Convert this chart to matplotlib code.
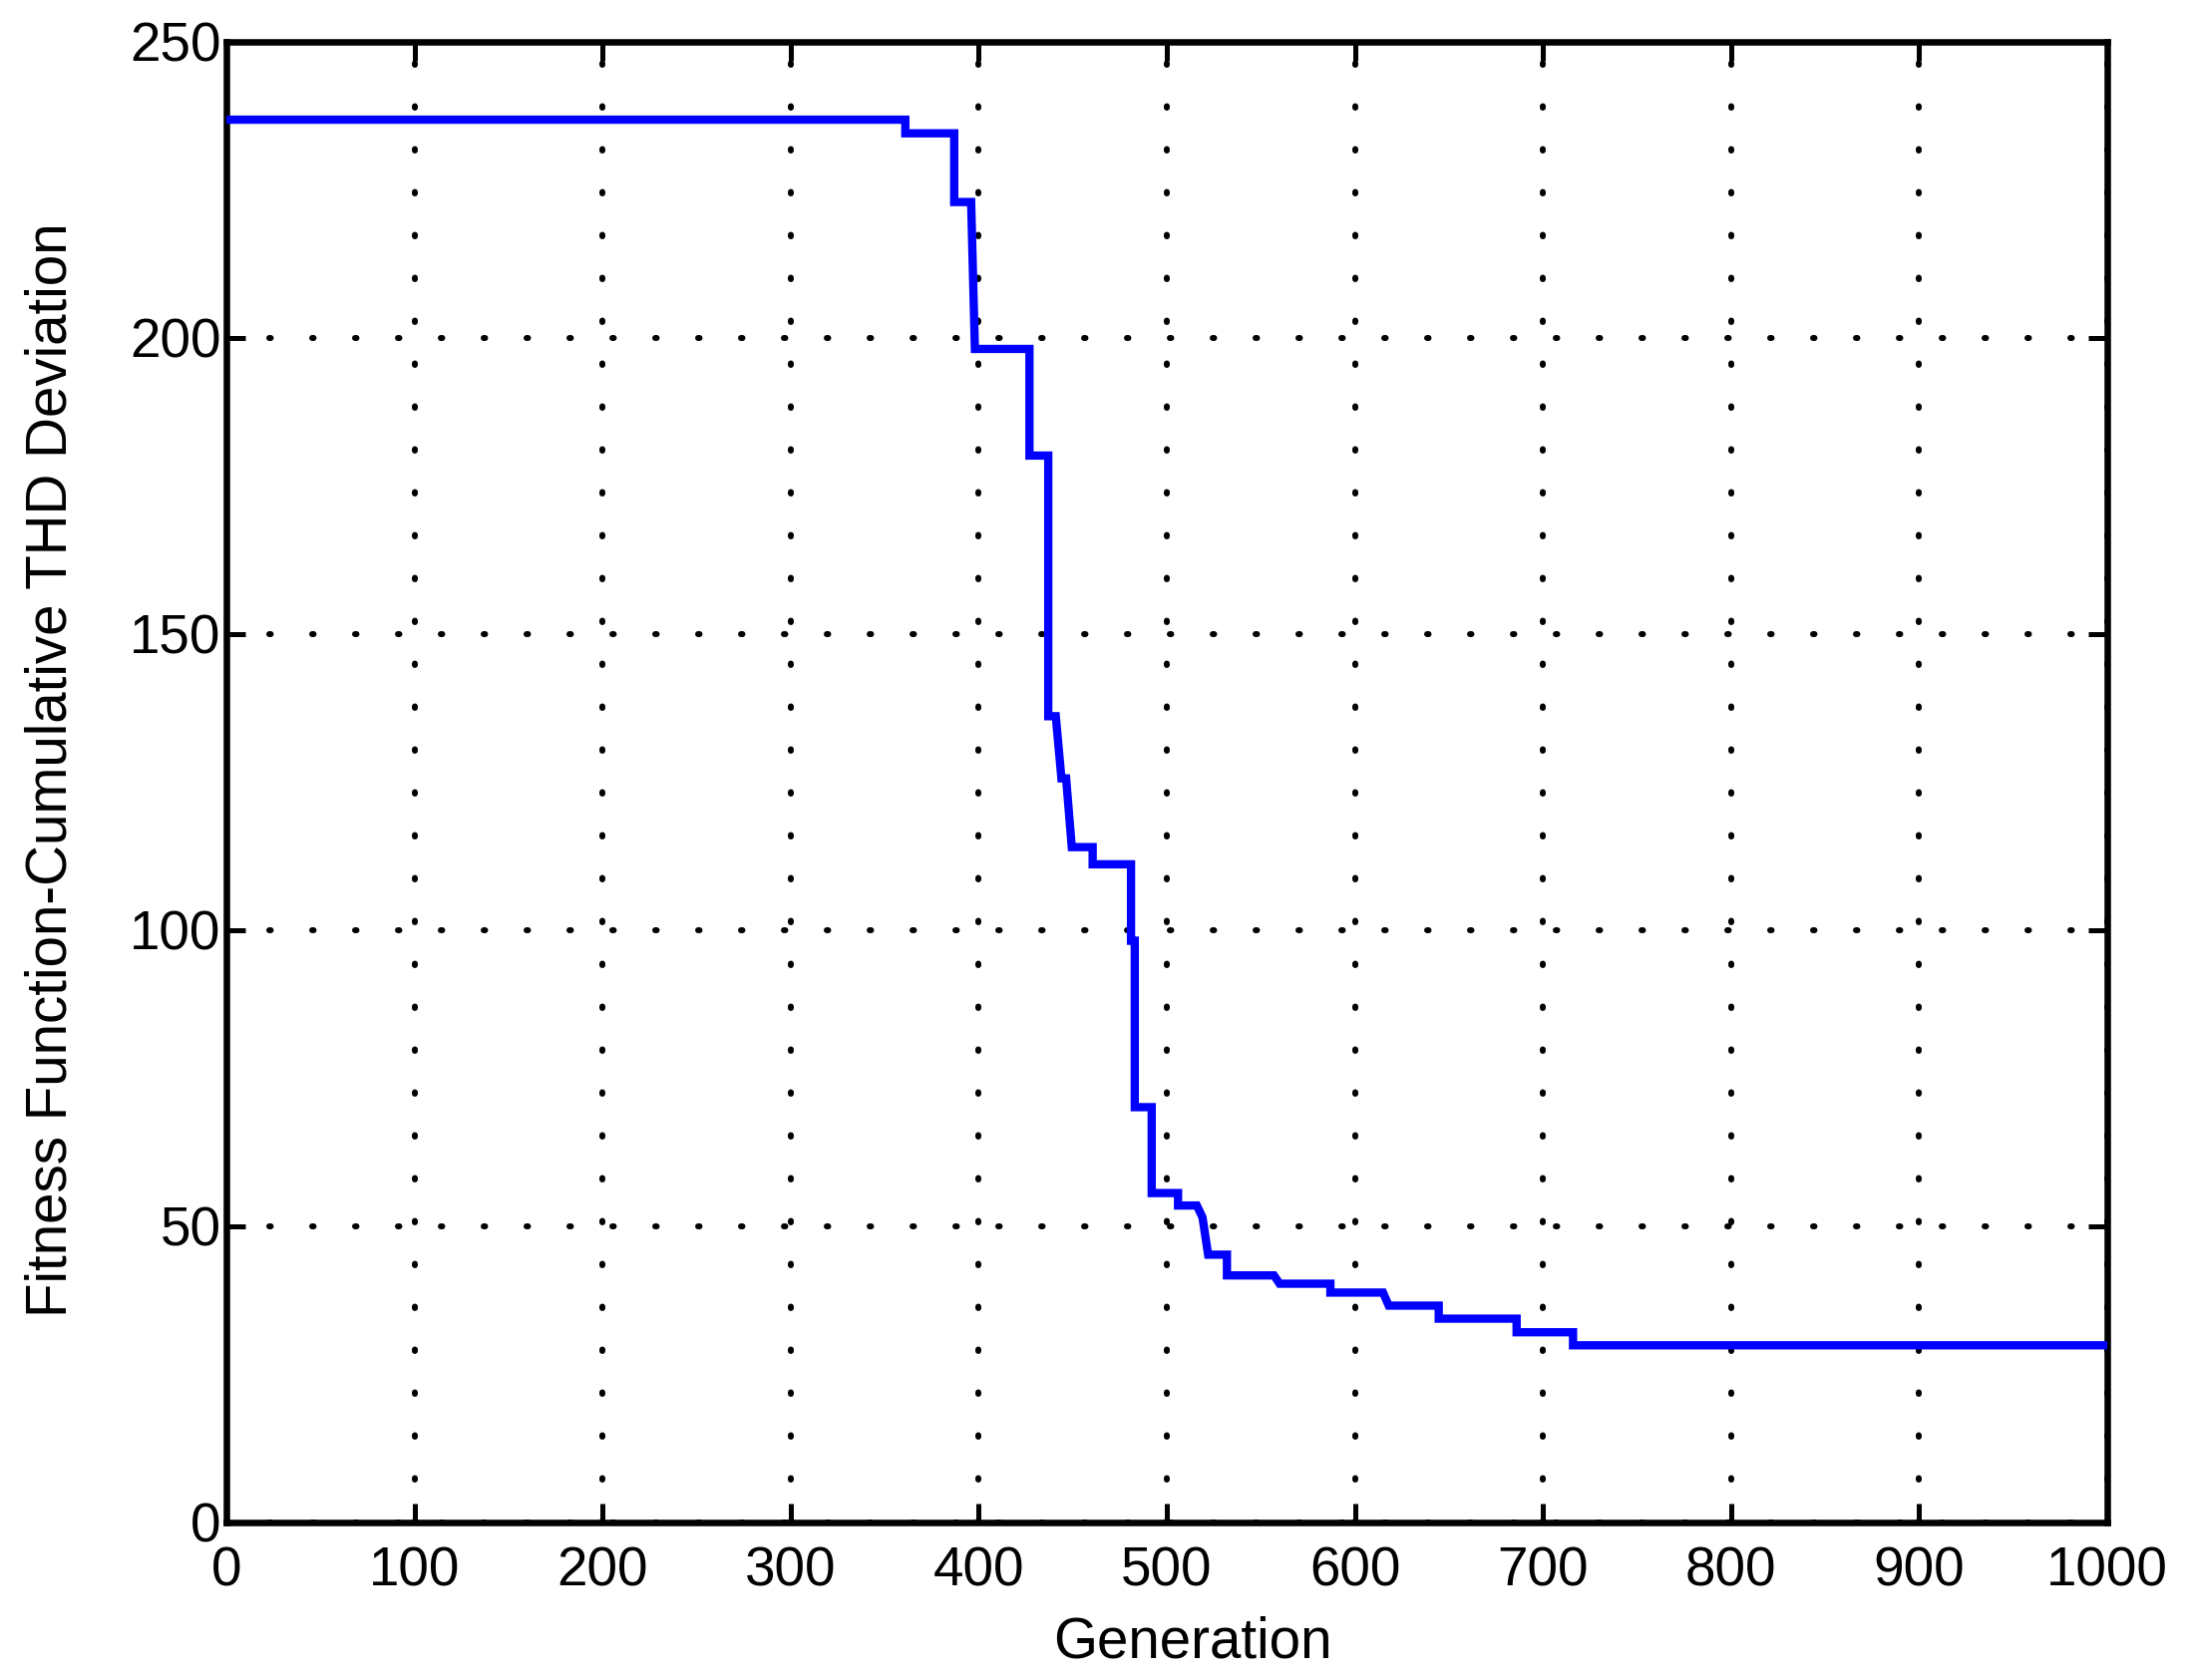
import matplotlib.pyplot as plt
import numpy as np

# corner points of the best-fitness curve (generation, fitness)
generation = [0, 361, 361, 387, 387, 396, 398, 427, 427, 437, 437, 441, 444, 446.5, 449.5,
              460.6, 460.6, 481, 481, 483, 483, 492, 492, 506, 506, 516, 519, 522,
              532, 532, 557, 560, 587, 587, 615, 618, 644.6, 644.6, 686, 686, 716, 716, 1000]
fitness = [236.8, 236.8, 234.5, 234.5, 222.9, 222.9, 198.1, 198.1, 180.1, 180.1, 136.1, 136.1, 125.6, 125.6, 114.0,
           114.0, 111.1, 111.1, 98.2, 98.2, 70.1, 70.1, 55.6, 55.6, 53.5, 53.5, 51.5, 45.2,
           45.2, 41.7, 41.7, 40.3, 40.3, 38.8, 38.8, 36.6, 36.6, 34.4, 34.4, 32.1, 32.1, 29.9, 29.9]

x_ticks = np.arange(0, 1001, 100)
y_ticks = np.arange(0, 251, 50)

plt.rcParams['font.family'] = ['Liberation Sans', 'DejaVu Sans']

fig = plt.figure(figsize=(22.01, 16.85), dpi=100)
ax = fig.add_axes([0.1031, 0.0938, 0.8569, 0.8815])

ax.plot(generation, fitness, color=(0, 0, 1), linewidth=6, solid_joinstyle='miter', zorder=3)

ax.set_xlim(0, 1000)
ax.set_ylim(0, 250)
ax.set_xticks(x_ticks)
ax.set_yticks(y_ticks)

ax.grid(True, color='black', linestyle=(0, (0.25, 6.95)), linewidth=4.3,
        dash_capstyle='round')
ax.set_axisbelow(True)

for s in ax.spines.values():
    s.set_linewidth(4.7)
ax.tick_params(direction='in', length=14, width=3.6, top=True, right=True,
               labelsize=39.5)
ax.tick_params(axis='x', pad=17)
ax.tick_params(axis='y', pad=4)

ax.set_xlabel('Generation', fontsize=40.7)
ax.set_ylabel('Fitness Function-Cumulative THD Deviation', fontsize=40.7)
ax.xaxis.label.set_verticalalignment('center')
ax.yaxis.label.set_verticalalignment('center')
ax.xaxis.set_label_coords(0.514, -0.081)
ax.yaxis.set_label_coords(-0.093, 0.508)

fig.savefig('out.png', dpi=100)
